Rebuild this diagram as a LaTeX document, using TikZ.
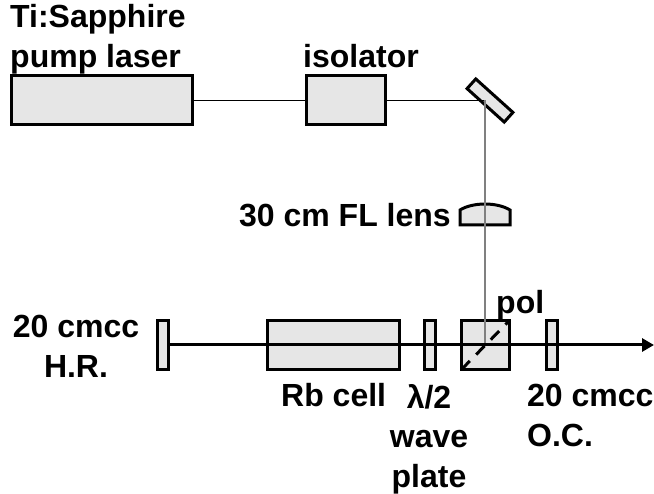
\documentclass[tikz,border=0pt]{standalone}
\usepackage{fontspec}
\setmainfont{Liberation Sans}
\usepackage{xcolor}
\usepackage{tikz}
\usetikzlibrary{arrows.meta,positioning,calc}
\definecolor{partgray}{RGB}{230,230,230}
\definecolor{beamgray}{RGB}{128,128,128}

\begin{document}
\begin{tikzpicture}[
    x=1pt, y=-1pt,
    part/.style={rectangle, draw=black, fill=partgray, line width=3pt,
        inner sep=0pt, minimum height=49pt},
    plate/.style={part, minimum width=11pt},
    label/.style={font=\fontsize{32}{40}\selectfont\bfseries, inner sep=0pt, align=left},
    thinbeam/.style={line width=1pt, black},
    tallbeam/.style={line width=1.4pt, beamgray},
    mainbeam/.style={line width=3pt, black, -{Triangle[length=12pt,width=13pt]}}
]
    \useasboundingbox (0,0) rectangle (654,494);

    % top row
    \node[part, minimum width=181pt, anchor=center] (pump) at (101.5,100.5) {};
    \node[part, minimum width=79pt, right=111pt of pump] (isolator) {};
    \node[part, minimum width=50pt, minimum height=13pt, rotate=-42] (mirror) at (490,100.5) {};
    \coordinate (turn) at (485,100.5);

    % lens
    \coordinate (lens) at (485,225);
    \draw[line width=3pt, fill=partgray] ($(lens)+(-25,0)$) -- ++(0,-15)
        .. controls ($(lens)+(-12,-23)$) and ($(lens)+(12,-23)$) .. ($(lens)+(25,-15)$)
        -- ++(0,15) -- cycle;

    % bottom row
    \node[plate, anchor=center] (hr) at (163,345) {};
    \node[part, minimum width=132pt, right=96pt of hr] (cell) {};
    \node[plate, right=22pt of cell] (wave) {};
    \node[part, minimum width=48pt, right=23pt of wave] (pol) {};
    \node[plate, right=34pt of pol] (oc) {};
    \coordinate (exit) at (654,345);
    \coordinate (split) at (485,345);

    % beams
    \draw[thinbeam] (pump.east) -- (isolator.west);
    \draw[thinbeam] (isolator.east) -- (turn);
    \draw[tallbeam] (turn) -- (split);
    \draw[mainbeam] (hr.east) -- (exit);
    \draw[line width=3pt, dash pattern=on 12pt off 9pt, shorten <=2pt, shorten >=2pt] (pol.south west) -- (pol.north east);

    % labels
    \node[label, anchor=base west] (pumplabel) at (10,68) {Ti:Sapphire\\pump laser};
    \node[label, anchor=base west] (isolatorlabel) at (303,68) {isolator};
    \node[label, anchor=base east] (lenslabel) at (451,227) {30 cm FL lens};
    \node[label, anchor=base west] (pollabel) at (496,314) {pol};
    \node[label, anchor=base, align=center] (hrlabel) at (76,378) {20 cmcc\\H.R.};
    \node[label, anchor=base west] (celllabel) at (281,407) {Rb cell};
    \node[label, anchor=base, align=center] (wavelabel) at (429,488) {λ/2\\wave\\plate};
    \node[label, anchor=base west] (oclabel) at (527,447) {20 cmcc\\O.C.};
\end{tikzpicture}
\end{document}
